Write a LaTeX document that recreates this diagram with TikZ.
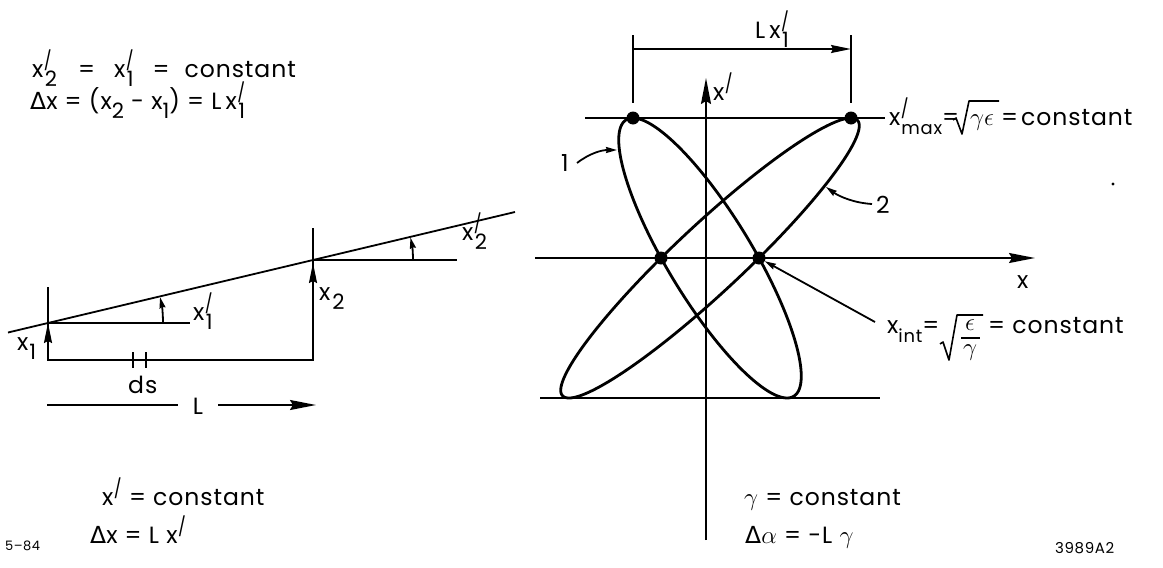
\documentclass[tikz,border=0pt]{standalone}
\usepackage{fontspec}
\setmainfont{Poppins}[LetterSpace=4]
\newfontfamily\dv{DejaVu Sans}
\usetikzlibrary{arrows.meta}
\newcommand{\sbs}[1]{\raisebox{-0.42em}{\scalebox{0.9}{#1}}}
\newcommand{\prm}{\raisebox{0.40em}{\scalebox{0.7}[0.8]{/}}}
\newcommand{\xpr}[1]{x\rlap{\kern0.5pt\prm}\kern1.5pt\sbs{#1}}
\tikzset{
  x=1pt, y=-1pt,
  lab/.style={inner sep=0pt, anchor=base west, font=\fontsize{23.5}{26}\selectfont},
  grk/.style={inner sep=0pt, font=\fontsize{27}{30}\selectfont},
  small/.style={inner sep=0pt, anchor=base west, font=\fontsize{13}{15}\selectfont},
  ln/.style={line width=1.8pt},
  rad/.style={line width=1.6pt, line join=round},
  ell/.style={line width=2.8pt},
  dot/.style={circle, fill, inner sep=0pt, minimum size=13pt},
  bigarr/.style={-{Stealth[length=26pt,width=10pt,inset=3pt]}},
  midarr/.style={-{Stealth[length=20pt,width=8pt,inset=2pt]}},
  smarr/.style={-{Stealth[length=11pt,width=6pt,inset=1pt]}},
}
\begin{document}
\begin{tikzpicture}
\useasboundingbox (0,0) rectangle (1163,568);
% ---------- left texts ----------
\node[lab] (t1) at (32,77) {\xpr{2}\hspace{21pt}=\hspace{19pt}\xpr{1}\hspace{19pt}=\hspace{15pt}constant};
\node[lab] (t2) at (30,109) {{\dv Δ}x = (x\sbs{2} - x\sbs{1}) = L\,\xpr{1}};
\node[lab] (t3) at (102,505) {x\kern0.5pt\prm\ = constant};
\node[lab] (t4) at (90,543) {{\dv Δ}x = L\ x\kern0.5pt\prm};
\node[small] (t5) at (5,550) {5–84};
% ---------- left diagram ----------
\coordinate (P1) at (48,323);
\coordinate (P2) at (313,260);
\draw[ln] (8,332.5) -- (515,212);
\draw[ln] (48,287) -- (48,360) -- (313,360) -- (313,228);
\draw[ln, midarr] (48,360) -- (P1);
\draw[ln, midarr] (313,360) -- (313,263);
\draw[ln] (P1) -- (190,323);
\draw[ln] (P2) -- (457,260);
\draw[ln, smarr] (163,323) arc[start angle=0, end angle=-13, radius=115];
\draw[ln, smarr] (413,260) arc[start angle=0, end angle=-13, radius=100];
\node[lab] (lx1p) at (193,320) {\xpr{1}};
\node[lab] (lx2p) at (462,240) {\xpr{2}};
\node[lab] (lx2) at (319,300) {x\kern2pt\sbs{2}};
\node[lab] (lx1) at (17,350) {x\kern1pt\sbs{1}};
\draw[ln] (133,352) -- (133,368);
\draw[ln] (146,352) -- (146,368);
\node[lab] (lds) at (128,393) {ds};
\node[lab, anchor=center] (lL) at (198,406) {L};
\coordinate (La) at (47,405);
\coordinate (Lb) at (178,405);
\coordinate (Lc) at (218,405);
\coordinate (Ld) at (316,405);
\draw[line width=1.3pt] (La) -- (Lb);
\draw[ln, bigarr] (Lc) -- (Ld);
% ---------- right diagram ----------
\node[dot] (d1) at (633,118) {};
\node[dot] (d2) at (851,118) {};
\node[dot] (d3) at (661,258) {};
\node[dot] (d4) at (759,258) {};
\draw[ln] (633,35) -- (633,103);
\draw[ln] (851,35) -- (851,103);
\draw[ln, midarr] (633,49) -- (851,49);
\node[lab] (lLx) at (755,38) {L\,\xpr{1}};
\draw[ln, bigarr] (706,540) -- (706,78);
\node[lab] (lxp) at (713,100) {x\kern0.5pt\prm};
\draw[ln, bigarr] (535,258) -- (1035,258);
\node[lab] (lx) at (1017,288) {x};
\draw[ln] (585,118) -- (885,118);
\draw[ln] (540,398) -- (880,398);
\draw[ell] plot[smooth cycle, domain=0:358, samples=180]
  ({710+91.27*cos(\x)}, {258+75.16*(1.5714*cos(\x)+sin(\x))});
\draw[ell] plot[smooth cycle, domain=0:358, samples=180]
  ({710+149.27*cos(\x)}, {258+45.96*(-2.8776*cos(\x)+sin(\x))});
\node[lab] (l1) at (561,171) {1};
\node[lab] (l2) at (876,213) {2};
\coordinate (e1) at (617,150);
\coordinate (e2) at (826,187);
\draw[ln, smarr] (577,163) .. controls (590,153) and (602,150) .. (e1);
\draw[ln, smarr] (872,204) .. controls (855,203) and (840,197) .. (e2);
% x'max label
\node[lab] (lmax) at (889,125) {x\rlap{\kern0.5pt\prm}\kern1pt\sbs{\scalebox{0.85}{max}}=};
\draw[rad] (953,120) -- (956,118) -- (962,134) -- (969,101) -- (999,101);
\node[grk, anchor=base west] (lge) at (970,125) {$\gamma\epsilon$};
\node[lab] (lmax2) at (1001,125) {=\kern3pt constant};
% x_int label
\node[lab] (lint) at (887,333) {x\sbs{\scalebox{0.85}{int}}=};
\draw[rad] (940,344) -- (943,342) -- (949,360) -- (957,315) -- (983,315);
\node[grk] (leps) at (970,325.5) {$\epsilon$};
\draw[rad] (961,338) -- (980,338);
\node[grk] (lgam) at (970,352.5) {$\gamma$};
\node[lab] (lint2) at (988,333) {=\ constant};
\coordinate (ia) at (875,322);
\draw[ln, smarr] (ia) -- (d4);
\node[lab] (t6) at (744,505) {$\gamma$ = constant};
\node[lab] (t7) at (745,543) {{\dv Δ}$\alpha$ = -L\ $\gamma$};
\node[small, font=\fontsize{15}{17}\selectfont] (t8) at (1055,553) {3989A2};
\fill (1113,184) circle[radius=1.6];
\end{tikzpicture}
\end{document}
